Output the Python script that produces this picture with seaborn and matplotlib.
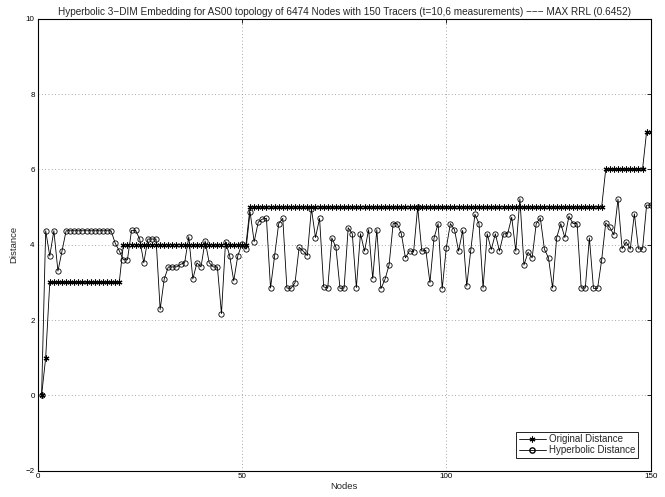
import numpy as np
import pandas as pd
import seaborn as sns
import matplotlib
matplotlib.use("Agg")
import matplotlib.pyplot as plt
from matplotlib.lines import Line2D

# Node index of each tracer
nodes = list(range(1, 151))

# Original (true) hop distance per node
original = (
    [0, 1]
    + [3] * 18      # nodes 3-20
    + [4] * 31      # nodes 21-51
    + [5] * 87      # nodes 52-138
    + [6] * 10      # nodes 139-148
    + [7] * 2       # nodes 149-150
)

# Distance in the hyperbolic embedding per node
hyperbolic = [
    0.00, 4.37, 3.70, 4.37, 3.30, 3.84, 4.37, 4.37, 4.37, 4.37,
    4.37, 4.37, 4.37, 4.37, 4.37, 4.37, 4.37, 4.37, 4.04, 3.84,
    3.60, 3.60, 4.38, 4.38, 4.15, 3.52, 4.15, 4.15, 4.15, 2.28,
    3.09, 3.41, 3.41, 3.41, 3.48, 3.52, 4.21, 3.09, 3.52, 3.41,
    4.10, 3.52, 3.41, 3.41, 2.17, 4.08, 3.71, 3.04, 3.71, 4.01,
    3.88, 4.87, 4.08, 4.60, 4.68, 4.70, 2.85, 3.70, 4.56, 4.70,
    2.85, 2.84, 2.99, 3.93, 3.83, 3.71, 4.96, 4.19, 4.70, 2.88,
    2.85, 4.18, 3.93, 2.84, 2.85, 4.45, 4.29, 2.86, 4.29, 3.83,
    4.40, 3.10, 4.40, 2.83, 3.08, 3.46, 4.56, 4.56, 4.29, 3.65,
    3.84, 3.81, 5.00, 3.83, 3.85, 2.99, 4.18, 4.56, 2.83, 3.92,
    4.56, 4.40, 3.83, 4.38, 2.90, 3.87, 4.81, 4.56, 2.85, 4.29,
    3.87, 4.29, 3.83, 4.29, 4.29, 4.73, 3.83, 5.22, 3.46, 3.80,
    3.65, 4.56, 4.71, 3.88, 3.65, 2.85, 4.19, 4.56, 4.19, 4.76,
    4.56, 4.56, 2.85, 2.85, 4.18, 2.84, 2.84, 3.59, 4.58, 4.46,
    4.26, 5.21, 3.89, 4.07, 3.88, 4.82, 3.89, 3.88, 5.05, 5.05,
]

series_names = ["Original Distance", "Hyperbolic Distance"]
x_ticks = [0, 50, 100, 150]
y_ticks = [-2, 0, 2, 4, 6, 8, 10]
title = ("Hyperbolic 3\u2212DIM Embedding for AS00 topology of 6474 Nodes with "
         "150 Tracers (t=10,6 measurements) \u2212\u2212\u2212 MAX RRL (0.6452)")

sns.set_style("white")
plt.rcParams["font.family"] = ["Liberation Sans", "DejaVu Sans"]

fig = plt.figure(figsize=(6.65, 4.97), dpi=100)
ax = fig.add_axes([0.0564, 0.0529, 0.9221, 0.9095])

asterisk = (6, 2, 0)
sns.lineplot(x=nodes, y=original, ax=ax, color="black", lw=0.6,
             marker=asterisk, markersize=4.2, markeredgewidth=0.8,
             markerfacecolor="black", markeredgecolor="black", legend=False)
sns.lineplot(x=nodes, y=hyperbolic, ax=ax, color="black", lw=0.6,
             marker="o", markersize=3.8, markeredgewidth=0.6,
             markerfacecolor="none", markeredgecolor="black", legend=False)

ax.set_xlim(0, 150)
ax.set_ylim(-2, 10)
ax.set_xticks(x_ticks)
ax.set_yticks(y_ticks)
ax.set_xticklabels([str(v) for v in x_ticks])
ax.set_yticklabels([str(v).replace("-", "\u2212") for v in y_ticks])
ax.tick_params(direction="in", length=3, width=0.6, labelsize=5.8,
               top=True, right=True, pad=2, colors="black")

ax.grid(True, linestyle=(0, (1, 3)), color="0.55", linewidth=0.6)
for s in ax.spines.values():
    s.set_color("black")
    s.set_linewidth(0.8)

ax.set_xlabel("Nodes", fontsize=6.8, labelpad=1)
ax.set_ylabel("Distance", fontsize=6.8, labelpad=5)
ax.set_title(title, fontsize=7.2, pad=3)

handles = [
    Line2D([], [], color="black", lw=0.6, marker=asterisk, markersize=4.2,
           markeredgewidth=0.8),
    Line2D([], [], color="black", lw=0.6, marker="o", markersize=3.8,
           markerfacecolor="none"),
]
leg = ax.legend(handles, series_names, loc="lower right", fontsize=7,
                frameon=True, fancybox=False, framealpha=1, edgecolor="black",
                borderpad=0.25, handlelength=2.8, handletextpad=0.3,
                labelspacing=0.1, borderaxespad=1.35)
leg.get_frame().set_linewidth(0.6)

fig.savefig("out.png", dpi=100)
